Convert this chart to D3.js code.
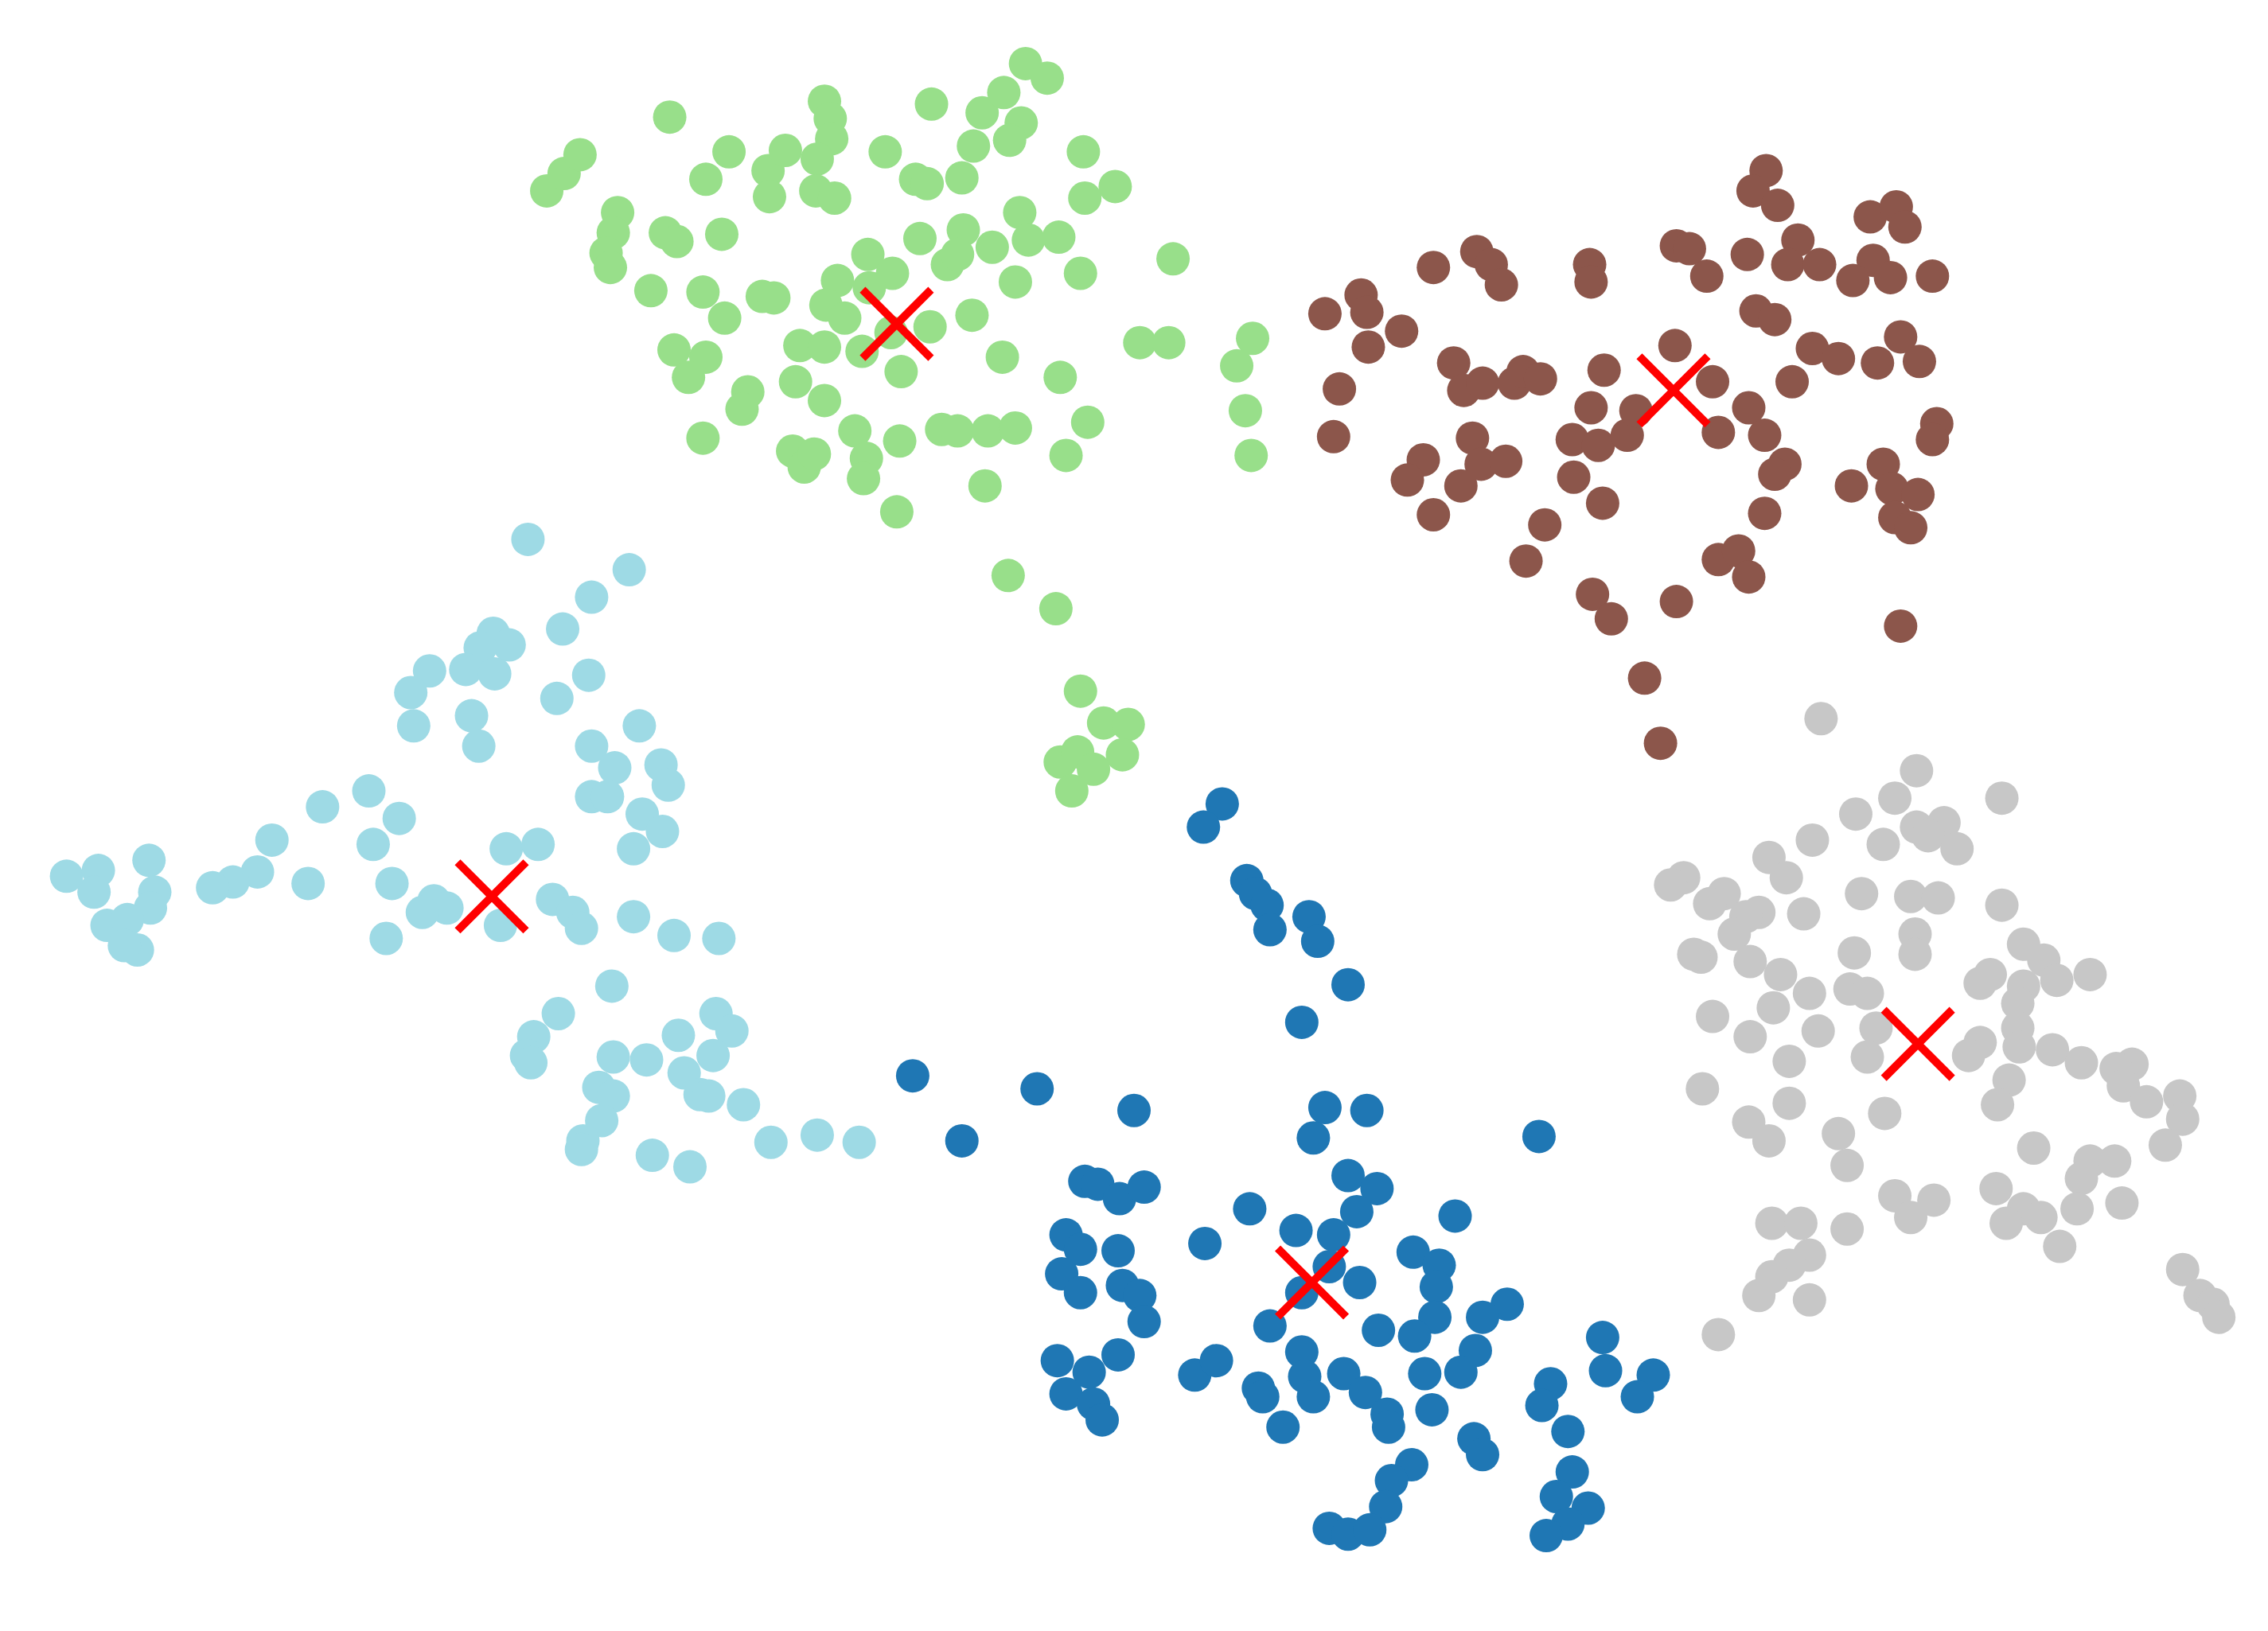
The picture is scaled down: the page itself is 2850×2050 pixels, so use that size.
<!DOCTYPE html>
<html>
<head>
<meta charset="utf-8">
<script src="https://cdn.jsdelivr.net/npm/d3@7"></script>
<style>
  body { margin: 0; background: #fff; }
</style>
</head>
<body>
<div id="chart"></div>
<script>
// point positions (embedding units, no axes shown)
var green = [
  [463,81],[378,132],[390,120],[401,107],[427,147],[424,161],[419,175],[422,185],[460,161],[468,167],
  [499,162],[488,124],[504,105],[531,118],[543,104],[532,136],[570,70],[574,82],[575,96],[565,110],
  [564,132],[577,137],[612,105],[633,124],[641,127],[644,72],[679,78],[694,64],[709,44],[724,54],
  [706,85],[698,97],[673,101],[665,123],[749,105],[771,129],[750,137],[705,147],[686,171],[711,166],
  [732,164],[666,159],[636,165],[655,183],[662,176],[600,176],[579,194],[617,189],[601,199],[571,211],
  [584,220],[450,201],[486,202],[501,220],[527,205],[535,206],[672,218],[702,195],[747,189],[811,179],
  [643,226],[616,230],[596,243],[553,239],[570,240],[550,264],[570,277],[623,257],[693,247],[733,261],
  [466,242],[488,247],[476,261],[517,271],[513,283],[486,303],[591,298],[622,305],[548,312],[556,323],
  [563,314],[599,317],[597,331],[620,354],[681,336],[651,297],[662,298],[683,298],[702,296],[737,315],
  [752,292],[788,237],[808,237],[866,234],[855,253],[861,284],[865,315],[697,398],[730,421],[747,478],
  [763,500],[780,501],[776,522],[733,527],[745,520],[756,532],[741,547]
];

var brown = [
  [1221,118],[1212,132],[1229,142],[1293,150],[1311,143],[1317,157],
  [991,185],[1021,174],[1031,183],[1038,197],[1099,183],[1100,195],
  [1159,170],[1168,172],[1180,191],[1208,176],[1243,166],[1236,183],[1258,183],[1295,180],[1281,194],[1307,192],[1336,191],
  [1214,215],[1227,221],[1314,233],[1253,241],[1271,248],[1298,251],[1327,250],[1239,264],
  [1209,282],[1188,299],[1220,301],[1234,321],[1227,328],[1339,293],[1336,304],
  [1280,336],[1302,321],[1308,338],[1326,342],[1310,358],[1321,365],
  [1184,264],[1158,239],[1109,256],[1100,282],[1087,304],[1105,308],[1125,301],[1131,284],[1088,330],[1108,348],[1068,363],[1220,355],
  [916,217],[941,204],[945,216],[969,229],[946,240],[926,269],[922,302],
  [1005,251],[1012,270],[1025,265],[1047,265],[1053,257],[1065,262],
  [1018,303],[1024,321],[1041,319],[984,318],[973,332],[1010,336],[991,356],
  [1055,388],[1101,411],[1114,428],[1159,416],[1188,387],[1202,381],[1209,399],[1314,433],[1137,469],[1148,514]
];

var lightBlue = [
  [365,373],[435,394],[409,413],[389,435],
  [341,438],[352,446],[332,448],[322,463],[342,466],[297,464],[284,479],[286,502],[326,495],[331,516],
  [407,467],[385,483],[442,502],[409,516],[425,531],[457,529],[462,543],[409,551],[420,551],[444,563],[458,575],[438,587],
  [255,547],[223,558],[276,566],[258,584],[271,611],[188,581],[213,611],[178,603],[161,610],[147,614],
  [103,595],[46,606],[68,602],[65,617],[107,617],[104,628],[74,640],[88,636],[95,657],[86,654],
  [350,587],[372,584],[382,622],[396,631],[402,642],[346,640],[300,623],[309,628],[292,631],[267,649],
  [438,634],[466,647],[497,649],[423,682],[386,701],
  [369,717],[364,730],[367,735],[424,731],[447,733],[469,716],[495,701],[506,713],[493,730],[473,742],[484,757],[490,758],[514,764],
  [414,752],[424,758],[416,775],[403,789],[402,795],[451,799],[477,807],[533,790],[565,785],[594,790]
];

var darkBlue = [
  [845,556],[832,572],[862,609],[868,618],[876,626],[878,643],[905,634],[911,651],[932,681],[900,707],
  [631,744],[665,789],[717,753],[784,768],[916,766],[908,787],[945,768],[1064,786],
  [750,817],[759,819],[774,829],[791,821],[864,836],[896,851],[833,860],
  [932,813],[952,822],[938,838],[922,854],[919,876],[940,887],[900,894],[878,917],[953,920],
  [1006,841],[977,866],[995,875],[993,890],[992,911],[978,924],[1042,902],[1025,911],[1020,934],[1010,949],[985,950],[990,975],
  [737,854],[747,864],[773,865],[734,881],[747,894],[776,889],[788,896],[791,914],
  [731,941],[753,949],[773,937],[737,964],[756,971],[762,982],
  [826,951],[841,941],[870,960],[873,966],[887,987],
  [900,935],[902,952],[908,966],[929,950],[944,963],[959,978],[960,987],
  [1019,995],[1025,1006],[976,1013],[962,1024],[958,1042],[919,1057],[932,1061],[947,1058],
  [1072,957],[1066,972],[1084,990],[1108,925],[1110,948],[1143,951],[1132,966],
  [1087,1018],[1076,1035],[1098,1043],[1084,1054],[1069,1062]
];

var gray = [
  [1259,497],[1325,533],[1310,552],[1283,563],[1384,552],[1253,581],[1302,584],[1325,572],[1344,569],[1333,578],[1353,587],
  [1223,593],[1235,607],[1164,607],[1155,612],[1192,618],[1182,625],[1216,631],[1207,634],[1199,646],[1247,632],[1287,618],[1321,620],[1340,621],[1384,626],
  [1176,662],[1171,660],[1210,665],[1231,674],[1282,659],[1324,646],[1324,660],[1251,687],[1279,684],[1291,687],[1226,697],[1184,703],[1210,717],[1257,713],[1297,711],[1291,731],[1237,734],
  [1399,653],[1413,664],[1422,678],[1445,674],[1376,674],[1369,680],[1399,682],[1395,694],[1395,711],[1396,724],[1369,721],[1361,730],[1419,726],[1439,735],[1474,736],[1463,739],
  [1177,753],[1237,763],[1209,776],[1223,789],[1303,770],[1271,784],[1277,806],[1389,747],[1381,764],[1468,751],[1484,762],[1507,758],[1509,774],[1497,792],[1406,794],
  [1445,803],[1462,803],[1439,815],[1467,832],[1436,836],[1380,822],[1399,836],[1411,842],[1387,846],[1424,862],[1310,827],[1337,830],[1321,842],[1277,850],[1225,846],[1245,846],[1251,868],[1237,875],[1225,883],[1216,896],[1251,899],[1188,923],
  [1509,878],[1521,896],[1530,902],[1534,911]
];

// cluster centres (red crosses)
var centroids = [[620,224],[1157,270],[340,620],[907,887],[1326,722]];

var clusters = [
  { name: "green", color: "#98df8a", points: green },
  { name: "brown", color: "#8c564b", points: brown },
  { name: "lightBlue", color: "#9edae5", points: lightBlue },
  { name: "darkBlue", color: "#1f77b4", points: darkBlue },
  { name: "gray", color: "#c7c7c7", points: gray }
];

var width = 2850,
    height = 2050,
    radius = 21,
    arm = 43;

var x = d3.scaleLinear()
    .domain([0, 1568])
    .range([0, width]);

var y = d3.scaleLinear()
    .domain([0, 1128])
    .range([0, height]);

var svg = d3.select("#chart")
  .append("svg")
    .attr("width", width)
    .attr("height", height)
    .style("display", "block");

svg.append("rect")
    .attr("width", width)
    .attr("height", height)
    .attr("fill", "#fff");

svg.selectAll("g.cluster")
  .data(clusters)
  .join("g")
    .attr("class", "cluster")
    .attr("fill", d => d.color)
  .selectAll("circle")
  .data(d => d.points)
  .join("circle")
    .attr("cx", d => x(d[0]))
    .attr("cy", d => y(d[1]))
    .attr("r", radius);

svg.append("g")
    .attr("stroke", "#ff0000")
    .attr("stroke-width", 10)
    .attr("fill", "none")
  .selectAll("path")
  .data(centroids)
  .join("path")
    .attr("d", d => {
      var cx = x(d[0]), cy = y(d[1]);
      return `M${cx - arm},${cy - arm}L${cx + arm},${cy + arm}M${cx - arm},${cy + arm}L${cx + arm},${cy - arm}`;
    });
</script>
</body>
</html>
